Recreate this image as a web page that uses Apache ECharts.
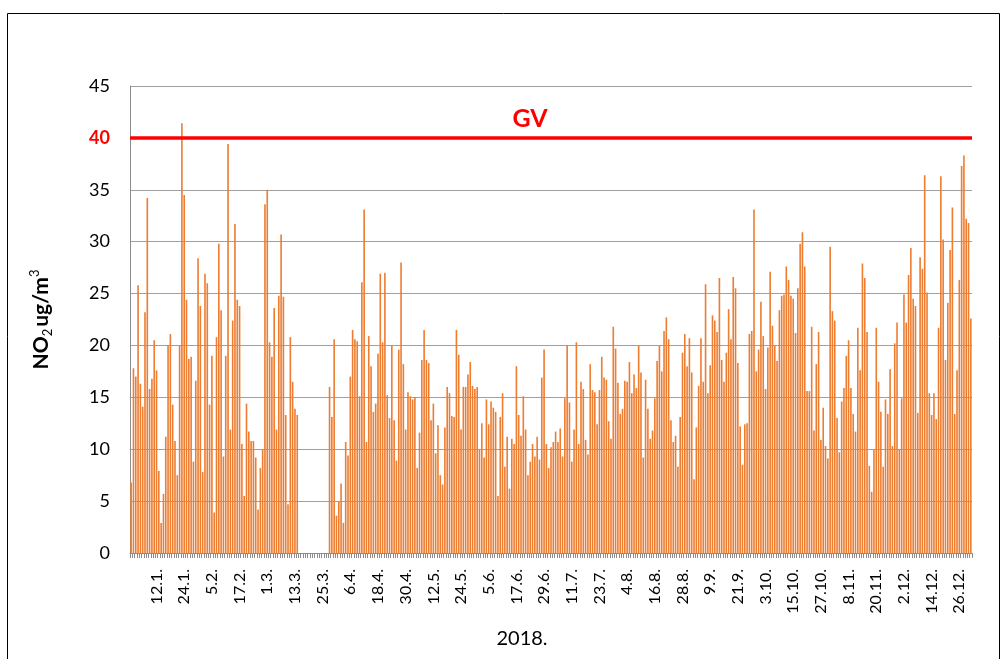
<!DOCTYPE html>
<html>
<head>
<meta charset="utf-8">
<title>NO2 2018</title>
<script src="https://cdn.jsdelivr.net/npm/echarts@6/dist/echarts.min.js"></script>
<style>
    html, body { margin: 0; padding: 0; background: #fff; }
    #chart { width: 1004px; height: 659px; }
</style>
</head>
<body>
<div id="chart"></div>
<script>
// dnevne vrijednosti NO2 (ug/m3) za 2018., po mjesecima
const jan = [6.8, 17.8, 17.0, 25.8, 16.3, 14.1, 23.2, 34.2, 15.8, 16.8, 20.5, 17.6, 7.9, 2.9, 5.7, 11.2,
    20.0, 21.1, 14.3, 10.8, 7.5, 20.0, 41.4, 34.5, 24.4, 18.7, 18.9, 8.8, 16.6, 28.4, 23.8];
const feb = [7.8, 26.9, 26.0, 14.3, 19.0, 3.9, 20.8, 29.8, 23.4, 9.3, 19.0, 39.4, 11.9, 22.4, 31.7, 24.4,
    23.8, 10.5, 5.5, 14.4, 11.7, 10.8, 10.8, 9.2, 4.2, 8.2, 10.0, 33.6];
const mar = [35.0, 20.3, 18.9, 23.6, 11.9, 24.8, 30.7, 24.7, 13.3, 4.7, 20.8, 16.5, 13.9, 13.3,
    null, null, null, null, null, null, null, null, null, null, null, null, null,
    16.0, 13.1, 20.6, 3.6];
const apr = [5.0, 6.7, 2.9, 10.7, 9.4, 17.0, 21.5, 20.6, 20.4, 15.1, 26.1, 33.1, 10.7, 20.9, 18.0, 13.6,
    14.4, 19.2, 26.9, 20.3, 27.0, 15.2, 13.0, 20.0, 12.8, 8.9, 19.6, 28.0, 18.2, 11.9];
const may = [15.5, 15.1, 14.8, 15.0, 8.2, 11.6, 18.6, 21.5, 18.6, 18.3, 12.8, 14.4, 9.6, 12.3, 7.5, 6.6,
    12.1, 16.0, 15.4, 13.2, 13.1, 21.5, 19.1, 11.9, 16.0, 16.0, 17.2, 18.4, 16.1, 15.8, 16.0];
const jun = [10.0, 12.5, 9.2, 14.8, 12.4, 14.6, 14.0, 13.6, 5.5, 13.1, 15.4, 8.3, 11.2, 6.2, 11.0, 10.5,
    18.0, 13.3, 11.3, 15.1, 11.9, 7.5, 8.8, 10.5, 9.3, 11.2, 9.0, 16.9, 19.6, 10.5];
const jul = [8.2, 10.2, 10.7, 11.7, 10.7, 12.0, 9.3, 14.9, 20.0, 14.5, 8.8, 11.9, 20.3, 10.5, 16.5, 15.8,
    10.9, 9.5, 18.2, 15.7, 15.5, 12.4, 15.7, 18.9, 16.9, 16.7, 12.7, 11.0, 21.8, 19.7, 16.4];
const aug = [13.4, 13.9, 16.6, 16.5, 18.4, 15.4, 17.2, 15.9, 20.0, 17.4, 9.2, 16.7, 13.9, 11.0, 11.8, 14.9,
    18.5, 20.0, 17.5, 21.4, 22.7, 20.6, 12.8, 10.7, 11.3, 8.3, 13.1, 19.3, 21.1, 18.0, 20.7];
const sep = [17.4, 7.1, 12.1, 16.1, 20.7, 16.5, 25.9, 15.4, 18.1, 22.9, 22.4, 21.3, 26.5, 18.6, 16.5, 19.3,
    23.5, 20.6, 26.6, 25.5, 18.3, 12.2, 8.5, 12.4, 12.5, 21.1, 21.4, 33.1, 17.5, 19.6];
const oct = [24.2, 20.9, 15.8, 19.8, 27.1, 21.9, 20.0, 18.5, 23.4, 24.8, 24.9, 27.6, 26.3, 24.8, 24.5, 21.2,
    25.5, 29.8, 30.9, 27.6, 15.6, 15.6, 21.8, 11.8, 18.2, 21.3, 10.9, 14.0, 10.3, 9.1, 29.5];
const nov = [23.3, 22.4, 13.0, 9.7, 14.6, 15.9, 19.0, 20.5, 15.9, 13.4, 11.7, 21.7, 17.6, 27.9, 26.5, 21.3,
    8.4, 5.9, 10.0, 21.7, 16.5, 13.6, 8.3, 14.8, 13.4, 17.7, 10.3, 20.2, 22.2, 10.0];
const dec = [14.9, 24.9, 22.2, 26.8, 29.4, 24.5, 23.8, 13.5, 28.5, 27.4, 36.4, 25.1, 15.4, 13.3, 15.4, 12.9,
    21.7, 36.3, 30.2, 18.6, 24.1, 29.2, 33.3, 13.4, 17.6, 26.3, 37.3, 38.3, 32.2, 31.8, 22.6];

const months = [jan, feb, mar, apr, may, jun, jul, aug, sep, oct, nov, dec];

// oznake na osi x (svaki 12. dan)
const tickLabels = ['12.1.', '24.1.', '5.2.', '17.2.', '1.3.', '13.3.', '25.3.', '6.4.', '18.4.', '30.4.',
    '12.5.', '24.5.', '5.6.', '17.6.', '29.6.', '11.7.', '23.7.', '4.8.', '16.8.', '28.8.', '9.9.', '21.9.',
    '3.10.', '15.10.', '27.10.', '8.11.', '20.11.', '2.12.', '14.12.', '26.12.'];

const limitValue = 40;   // granicna vrijednost (GV)
const yearLabel = '2018.';

// kategorije: dani u godini "d.m."
const days = [];
const values = [];
months.forEach(function(m, mi) {
    m.forEach(function(v, di) {
        days.push((di + 1) + '.' + (mi + 1) + '.');
        values.push(v);
    });
});

const FONT = 'Lato, "Open Sans", sans-serif';

const chart = echarts.init(document.getElementById('chart'));
chart.setOption({
    animation: false,
    backgroundColor: '#fff',
    textStyle: { fontFamily: FONT },
    graphic: [{
        type: 'rect',
        shape: { x: 7.5, y: 13.5, width: 992, height: 660 },
        style: { fill: 'none', stroke: '#000', lineWidth: 1 },
        silent: true
    }],
    grid: { left: 130, right: 32, top: 86, bottom: 106 },
    xAxis: {
        type: 'category',
        data: days,
        boundaryGap: true,
        name: yearLabel,
        nameLocation: 'middle',
        nameGap: 76,
        nameTextStyle: { fontSize: 20, color: '#000', fontFamily: FONT, padding: [0, 58, 0, 0] },
        axisLine: { lineStyle: { color: '#8c8c8c', width: 1 } },
        axisTick: { show: true, interval: 0, length: 5, lineStyle: { color: '#8c8c8c' } },
        axisLabel: {
            interval: function(i, v) { return tickLabels.indexOf(v) >= 0; },
            rotate: 90,
            fontSize: 16,
            color: '#000',
            margin: 16,
            fontFamily: FONT
        }
    },
    yAxis: {
        type: 'value',
        min: 0,
        max: 45,
        interval: 5,
        axisLine: { show: true, lineStyle: { color: '#8c8c8c' } },
        axisTick: { show: false },
        splitLine: { lineStyle: { color: '#a0a0a0', width: 1 } },
        axisLabel: {
            fontSize: 18,
            color: '#000',
            margin: 20,
            fontFamily: FONT,
            formatter: function(v) { return v === limitValue ? '{gv|' + v + '}' : String(v); },
            rich: { gv: { color: '#ff0000', fontWeight: 'bold', fontSize: 18, fontFamily: FONT } }
        },
        name: '{b|NO}{s|2}{b|ug/m}{p|3}',
        nameLocation: 'middle',
        nameGap: 74,
        nameTextStyle: {
            rich: {
                b: { fontSize: 21, fontWeight: 'bold', color: '#000', fontFamily: FONT, lineHeight: 30, verticalAlign: 'middle' },
                s: { fontSize: 13, fontWeight: 'normal', color: '#000', fontFamily: FONT, lineHeight: 30, verticalAlign: 'bottom', padding: [0, 2, 2, 0] },
                p: { fontSize: 13, fontWeight: 'normal', color: '#000', fontFamily: FONT, lineHeight: 30, verticalAlign: 'top', padding: [2, 0, 0, 0] }
            }
        }
    },
    series: [{
        type: 'bar',
        data: values,
        barCategoryGap: '30%',
        itemStyle: { color: '#ED7D31' },
        markLine: {
            silent: true,
            symbol: 'none',
            lineStyle: { color: '#ff0000', width: 3.5, type: 'solid' },
            label: {
                show: true,
                formatter: 'GV',
                position: 'insideMiddleTop',
                distance: 6,
                color: '#ff0000',
                fontWeight: 'bold',
                fontSize: 25,
                fontFamily: FONT,
                padding: [0, 42, 0, 0]
            },
            data: [{ yAxis: limitValue }]
        }
    }]
});

window.addEventListener('resize', function() {
    chart.resize();
});
</script>
</body>
</html>
